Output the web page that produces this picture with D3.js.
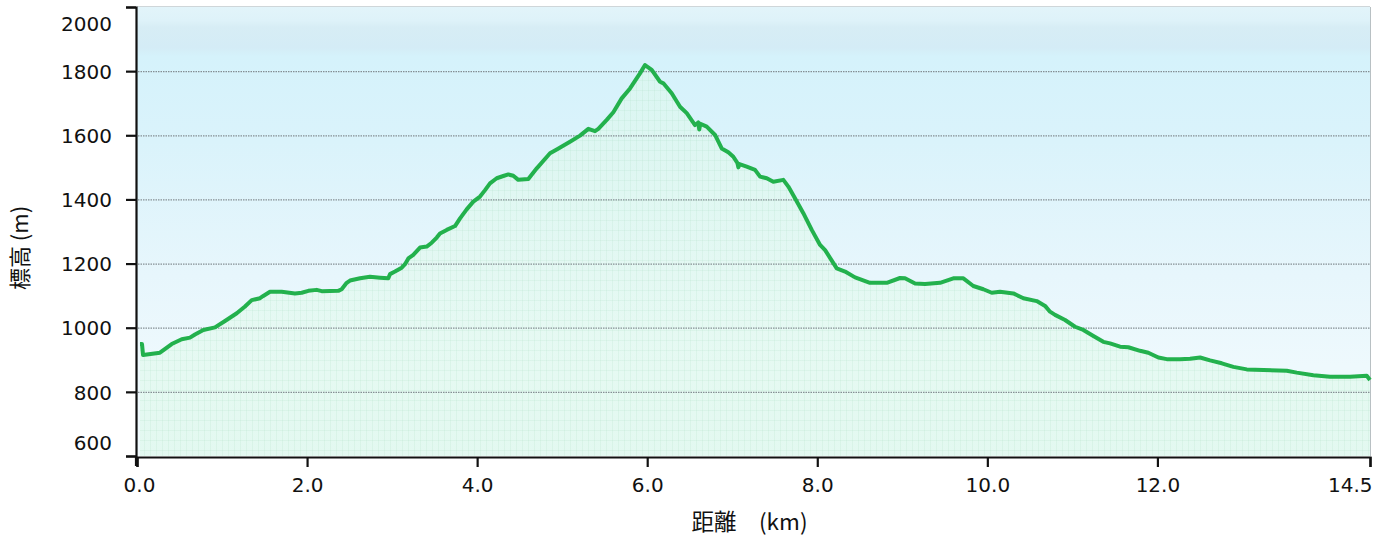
<!DOCTYPE html>
<html>
<head>
<meta charset="utf-8">
<script src="https://cdn.jsdelivr.net/npm/d3@7"></script>
<style>
html,body{margin:0;padding:0;background:#fff;}
svg{display:block;}
</style>
</head>
<body>
<svg id="chart" width="1388" height="537"></svg>
<script>
// distance (km)
const distanceKm = [0.035,0.059,0.071,0.27,0.408,0.526,0.623,0.682,0.78,0.917,1.035,1.173,1.27,1.349,1.447,1.485,1.564,1.702,1.858,1.937,2.015,2.113,2.172,2.367,2.407,2.466,2.505,2.623,2.74,2.858,2.955,2.975,3.034,3.113,3.152,3.191,3.249,3.328,3.407,3.466,3.525,3.563,3.642,3.74,3.799,3.877,3.955,4.034,4.093,4.151,4.23,4.308,4.367,4.425,4.484,4.602,4.701,4.857,4.936,5.092,5.21,5.308,5.386,5.425,5.524,5.602,5.7,5.798,5.915,5.974,6.053,6.151,6.19,6.288,6.386,6.465,6.562,6.6,6.612,6.625,6.7,6.798,6.876,6.954,7.013,7.06,7.072,7.085,7.17,7.268,7.327,7.406,7.483,7.601,7.66,7.738,7.836,7.935,8.033,8.092,8.15,8.229,8.327,8.444,8.62,8.817,8.973,9.032,9.15,9.267,9.444,9.6,9.718,9.835,9.953,10.052,10.149,10.306,10.424,10.581,10.679,10.737,10.796,10.914,11.031,11.129,11.247,11.364,11.443,11.561,11.658,11.796,11.893,12.011,12.11,12.266,12.384,12.502,12.619,12.757,12.893,13.051,13.246,13.521,13.639,13.834,14.03,14.265,14.462,14.5];
// elevation (m)
const elevationM = [949,949,915,922,949,964,969,979,993,1001,1021,1045,1066,1086,1092,1099,1112,1112,1107,1109,1115,1118,1114,1115,1120,1140,1147,1154,1159,1156,1154,1167,1175,1187,1198,1216,1227,1250,1253,1265,1281,1294,1305,1317,1341,1369,1393,1409,1429,1450,1466,1473,1478,1474,1461,1464,1497,1544,1556,1580,1599,1620,1613,1620,1648,1672,1715,1746,1793,1819,1804,1767,1762,1731,1689,1669,1632,1640,1618,1636,1627,1601,1559,1547,1533,1514,1500,1510,1502,1492,1471,1466,1455,1461,1440,1404,1357,1305,1258,1242,1218,1185,1175,1157,1140,1140,1155,1154,1138,1136,1140,1154,1154,1130,1120,1109,1112,1107,1092,1083,1068,1050,1040,1024,1003,993,974,956,951,941,939,928,922,907,902,902,903,907,898,889,878,870,868,866,860,852,847,847,850,837];
const xTicks = [0,2,4,6,8,10,12,14.5];
const yTicks = [600,800,1000,1200,1400,1600,1800,2000];
const gridValues = [800,1000,1200,1400,1600,1800];
const xTitle = "距離　(km)";
const yTitle = "標高 (m)";

const data = distanceKm.map((d,i)=>({x:d,y:elevationM[i]}));
const svg = d3.select("#chart");
const L=137, R=1370, T=7, B=456;
const x = d3.scaleLinear().domain([0,14.5]).range([L,R]);
const y = d3.scaleLinear().domain([600,2000]).range([B,T]);

const defs = svg.append("defs");
const bg = defs.append("linearGradient").attr("id","bg").attr("x1",0).attr("x2",0).attr("y1",0).attr("y2",1);
[[0,"#e2f4fa"],[0.03,"#def2f9"],[0.045,"#d7edf5"],[0.09,"#d4ecf6"],[0.11,"#d5f2fb"],[0.3,"#daf3fb"],[0.6,"#e7f6fc"],[0.8,"#eef9fd"],[1,"#f0fafd"]]
  .forEach(s=>bg.append("stop").attr("offset",s[0]).attr("stop-color",s[1]));
const ag = defs.append("linearGradient").attr("id","ag").attr("gradientUnits","userSpaceOnUse")
  .attr("x1",0).attr("x2",0).attr("y1",T).attr("y2",B);
[[0,"rgba(225,250,232,0.45)"],[0.7,"rgba(225,250,235,0.55)"],[1,"rgba(222,248,236,0.75)"]]
  .forEach(s=>ag.append("stop").attr("offset",s[0]).attr("stop-color",s[1]));
const pat = defs.append("pattern").attr("id","pat").attr("patternUnits","userSpaceOnUse").attr("width",6).attr("height",10);
pat.append("line").attr("x1",0.5).attr("x2",0.5).attr("y1",0).attr("y2",10).attr("stroke","rgba(160,220,185,0.16)");
pat.append("line").attr("x1",0).attr("x2",6).attr("y1",0.5).attr("y2",0.5).attr("stroke","rgba(160,220,185,0.16)");

svg.append("rect").attr("x",L).attr("y",T).attr("width",R-L).attr("height",B-T).attr("fill","url(#bg)");

const area = d3.area().x(d=>x(d.x)).y0(y(600)).y1(d=>y(d.y));
svg.append("path").datum(data).attr("d",area).attr("fill","url(#ag)");
svg.append("path").datum(data).attr("d",area).attr("fill","url(#pat)");

// gridlines
svg.append("g").selectAll("line").data(gridValues).join("line")
  .attr("x1",L+1).attr("x2",R).attr("y1",d=>y(d)+0.5).attr("y2",d=>y(d)+0.5)
  .attr("stroke","#858f94").attr("stroke-width",1.2).attr("stroke-dasharray","1.5,1");

// border top/right
svg.append("line").attr("x1",L).attr("x2",R).attr("y1",T-0.5).attr("y2",T-0.5).attr("stroke","#cfd6d9");
svg.append("line").attr("x1",R+0.5).attr("x2",R+0.5).attr("y1",T).attr("y2",B).attr("stroke","#b8c0c3");

// line
svg.append("path").datum(data)
  .attr("d",d3.line().x(d=>x(d.x)).y(d=>y(d.y)))
  .attr("fill","none").attr("stroke","#23b14d").attr("stroke-width",4).attr("stroke-linejoin","round");

const fontNum = "'DejaVu Sans', Verdana, sans-serif";
const yAxis = svg.append("g").attr("transform",`translate(${L-1},0)`)
  .call(d3.axisLeft(y).tickValues(yTicks).tickSize(10).tickPadding(14).tickFormat(d3.format("d")));
yAxis.selectAll("text").attr("font-size",20).attr("font-family",fontNum).attr("fill","#111")
  .attr("dy",d=> d===2000 ? "1.17em" : d===600 ? "-0.33em" : "0.36em");
const xAxis = svg.append("g").attr("transform",`translate(0,${B+1})`)
  .call(d3.axisBottom(x).tickValues(xTicks).tickSize(10).tickPadding(11).tickFormat(d3.format(".1f")));
xAxis.selectAll("text").attr("font-size",20).attr("font-family",fontNum).attr("fill","#111")
  .attr("text-anchor",d=> d===14.5 ? "end" : "middle")
  .attr("dx",d=> d===14.5 ? "2" : d===0 ? "2" : "0");
[yAxis,xAxis].forEach(a=>{
  a.select(".domain").attr("stroke","#111").attr("stroke-width",2.2);
  a.selectAll(".tick line").attr("stroke","#111").attr("stroke-width",2.2);
});
svg.append("line").attr("x1",L-1).attr("x2",L-1).attr("y1",B).attr("y2",B+10).attr("stroke","#111").attr("stroke-width",2.2);

svg.append("text").attr("x",(L+R)/2-4).attr("y",530).attr("text-anchor","middle")
  .attr("font-family","'Noto Sans CJK JP', 'DejaVu Sans', sans-serif").attr("font-size",22.5).attr("fill","#111").text(xTitle);
svg.append("text").attr("transform","translate(28,248) rotate(-90)").attr("text-anchor","middle")
  .attr("font-family","'Noto Sans CJK JP', 'DejaVu Sans', sans-serif").attr("font-size",22).attr("fill","#111").text(yTitle);
</script>
</body>
</html>
